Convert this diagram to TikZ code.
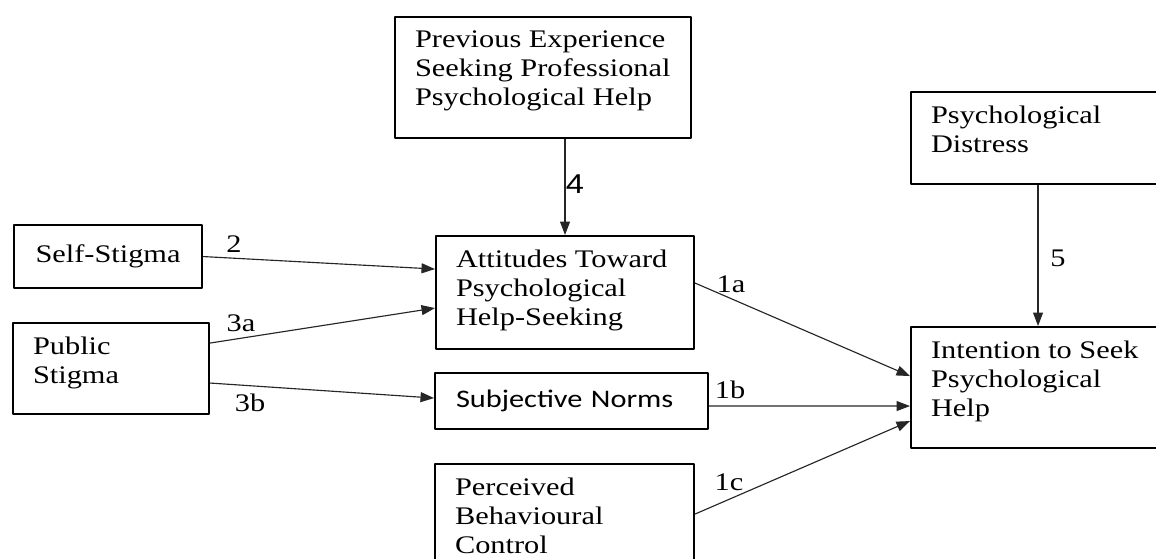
\documentclass[tikz,border=0pt]{standalone}
\usepackage{fontspec}
\setmainfont{Liberation Serif}[FakeStretch=1.2]
\newfontfamily\calibri{Carlito}[FakeStretch=1.2]
\newfontfamily\arial{Liberation Sans}[FakeStretch=1.2]
\usetikzlibrary{arrows.meta}
\tikzset{
  box/.style={draw, line width=1.2pt, anchor=north west, inner sep=0pt},
  tbox/.style 2 args={box, inner xsep=0.4cm, inner ysep=0.27cm,
    execute at begin node={\begin{minipage}[t][#2][t]{#1}},
    execute at end node={\end{minipage}}},
  arr/.style={-{Triangle[length=0.27cm,width=0.2cm]}, line width=0.65pt, black!85},
  lbl/.style={inner sep=0pt}
}
\begin{document}
\begin{tikzpicture}[x=0.02cm, y=-0.02cm, font=\fontsize{14.4}{16.6}\selectfont, line join=round]
			\useasboundingbox (0,0) rectangle (1156,558);
			\clip (0,0) rectangle (1156,558);
			% boxes
			\node[tbox={5.12cm}{1.88cm}] (prev) at (394,16) {Previous Experience\\Seeking Professional\\Psychological Help};
			\node[tbox={4.28cm}{1.30cm}] (distress) at (910,91) {Psychological\\Distress};
			\node[box, minimum width=3.76cm, minimum height=1.26cm] (self) at (13,224) {Self-Stigma};
			\node[tbox={3.12cm}{1.28cm}] (public) at (12,322) {Public\\Stigma};
			\node[tbox={4.36cm}{1.72cm}] (att) at (435,235) {Attitudes Toward\\Psychological\\Help-Seeking};
			\node[box, minimum width=5.46cm, minimum height=1.12cm, text width=4.62cm, inner xsep=0.42cm, align=left, font=\fontsize{14.4}{16.6}\calibri] (subj) at (434,372) {Subjective Norms};
			\node[tbox={4.38cm}{1.88cm}] (perc) at (434,463) {Perceived\\Behavioural\\Control};
			\node[tbox={4.28cm}{1.88cm}] (intent) at (910,326) {Intention to Seek\\Psychological\\Help};
			% paths
			\draw[arr] (prev.south -| att.north) -- (att.north);
			\draw[arr] (distress.south) -- (intent.north);
			\draw[arr] (self.east) -- ([yshift=0.47cm]att.west);
			\draw[arr] ([yshift=0.51cm]public.east) -- ([yshift=-0.31cm]att.west);
			\draw[arr] ([yshift=-0.29cm]public.east) -- ([yshift=0.06cm]subj.west);
			\draw[arr] ([yshift=0.19cm]att.east) -- ([yshift=0.23cm]intent.west);
			\draw[arr] ([yshift=-0.1cm]subj.east) -- ([yshift=-0.37cm]intent.west);
			\draw[arr] ([yshift=0.21cm]perc.east) -- ([yshift=-0.67cm]intent.west);
			% labels
			\node[lbl, font=\fontsize{15.5}{17}\arial] (l4) at (575,184) {4};
			\node[lbl] (l5) at (1058,258) {5};
			\node[lbl] (l2) at (234,244) {2};
			\node[lbl] (l3a) at (241,323) {3a};
			\node[lbl] (l3b) at (250,403) {3b};
			\node[lbl] (l1a) at (731,284) {1a};
			\node[lbl] (l1b) at (730,390) {1b};
			\node[lbl] (l1c) at (729,482) {1c};
		\end{tikzpicture}
\end{document}
